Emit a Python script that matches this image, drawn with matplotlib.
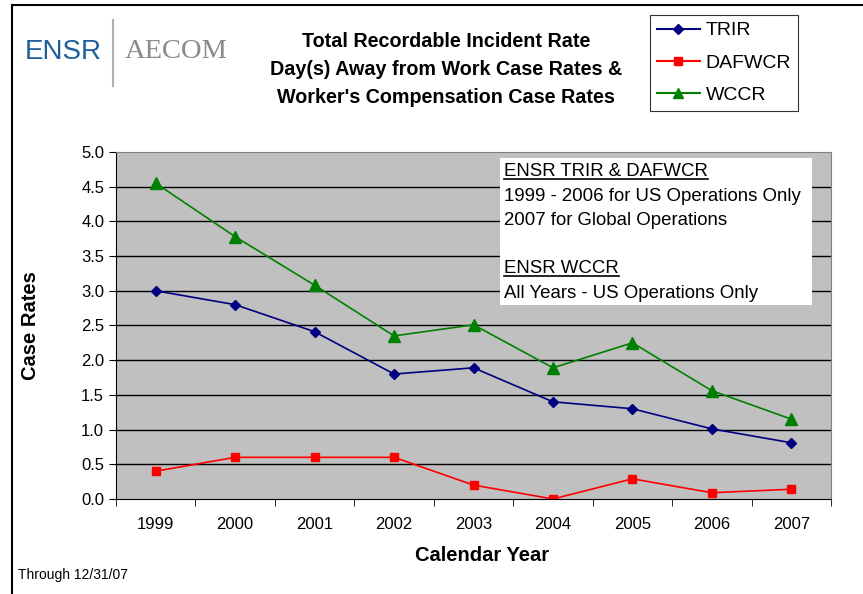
import matplotlib
matplotlib.use("Agg")
import matplotlib.pyplot as plt
from matplotlib.lines import Line2D

plt.rcParams['font.family'] = ['Liberation Sans', 'DejaVu Sans']

# data
years = ['1999', '2000', '2001', '2002', '2003', '2004', '2005', '2006', '2007']
trir = [3.0, 2.8, 2.41, 1.8, 1.89, 1.4, 1.3, 1.01, 0.81]
dafwcr = [0.4, 0.6, 0.6, 0.6, 0.2, 0.0, 0.29, 0.09, 0.14]
wccr = [4.55, 3.78, 3.08, 2.35, 2.51, 1.89, 2.25, 1.56, 1.15]
y_ticks = [0.0, 0.5, 1.0, 1.5, 2.0, 2.5, 3.0, 3.5, 4.0, 4.5, 5.0]

fig = plt.figure(figsize=(8.63, 5.94), dpi=100)
ax = fig.add_axes([0.1344, 0.16, 0.8286, 0.5841])
ax.set_facecolor('#C0C0C0')

x = range(len(years))
ax.plot(x, trir, color='#000080', marker='D', markersize=5.5, lw=1.2, label='TRIR')
ax.plot(x, dafwcr, color='#FF0000', marker='s', markersize=6, lw=1.2, label='DAFWCR')
ax.plot(x, wccr, color='#008000', marker='^', markersize=8, lw=1.2, label='WCCR')

ax.set_xlim(-0.5, len(years) - 0.5)
ax.set_ylim(0, 5)
ax.set_yticks(y_ticks)
ax.set_yticklabels([f'{v:.1f}' for v in y_ticks], fontsize=12)
ax.set_xticks(x)
ax.set_xticklabels(years, fontsize=12)
ax.set_xticks([i - 0.5 for i in range(len(years) + 1)], minor=True)
ax.tick_params(axis='x', which='major', length=0, pad=13)
ax.tick_params(axis='x', which='minor', length=5, direction='out', color='black')
ax.tick_params(axis='y', length=5, color='black')
for v in y_ticks[1:-1]:
    ax.axhline(v, color='black', lw=1, zorder=1)
ax.spines['left'].set_color('black')
ax.spines['bottom'].set_color('black')
ax.spines['top'].set_color('#808080')
ax.spines['right'].set_color('#808080')

ax.set_xlabel('Calendar Year', fontsize=14.5, fontweight='bold')
ax.set_ylabel('Case Rates', fontsize=14.5, fontweight='bold')
ax.xaxis.set_label_coords((482 - 116) / 715, -(556 - 499) / 347)
ax.yaxis.set_label_coords(-(116 - 31) / 715, (499 - 326) / 347)
ax.xaxis.label.set_va('center')
ax.yaxis.label.set_va('center')

# title
fig.text(446 / 863, 1 - 69.5 / 594, 'Total Recordable Incident Rate\nDay(s) Away from Work Case Rates &\n'
         "Worker's Compensation Case Rates", ha='center', va='center',
         fontsize=14.2, fontweight='bold', linespacing=1.6)

# legend box
handles = [Line2D([], [], color='#000080', marker='D', markersize=5),
           Line2D([], [], color='#FF0000', marker='s', markersize=6),
           Line2D([], [], color='#008000', marker='^', markersize=7)]
leg = fig.legend(handles, ['TRIR', 'DAFWCR', 'WCCR'], loc='upper left',
                 bbox_to_anchor=(650 / 863, 1 - 15 / 594), fontsize=14, frameon=True,
                 fancybox=False, edgecolor='black', handlelength=2.2,
                 handletextpad=0.3, labelspacing=0.75, borderpad=0.35,
                 borderaxespad=0)
leg.get_frame().set_linewidth(0.8)

# note box inside plot
box = plt.Rectangle((500 / 863, 1 - 305 / 594), 312 / 863, 147 / 594,
                    transform=fig.transFigure, facecolor='white', edgecolor='none', zorder=3)
fig.add_artist(box)
lines = [('ENSR TRIR & DAFWCR', True), ('1999 - 2006 for US Operations Only', False),
         ('2007 for Global Operations', False), ('', False),
         ('ENSR WCCR', True), ('All Years - US Operations Only', False)]
notes = []
for i, (txt, ul) in enumerate(lines):
    y = 1 - (172 + i * 24.2) / 594
    t = fig.text(504 / 863, y, txt, fontsize=13.4, va='center', ha='left', zorder=4)
    notes.append((t, ul))

# logo
fig.text(25 / 863, 1 - 52 / 594, 'ENSR', fontsize=20, color='#1f5f99', va='center')
fig.text(125 / 863, 1 - 52 / 594, 'AECOM', fontsize=20.5, color='#8a8a8a', va='center',
         family='Liberation Serif')
fig.add_artist(Line2D([113 / 863, 113 / 863], [1 - 20 / 594, 1 - 86 / 594],
                      transform=fig.transFigure, color='#b0b0b0', lw=1.5))

fig.text(18 / 863, 1 - 575 / 594, 'Through 12/31/07', fontsize=10, va='center')

# outer frame: top and left lines only
fig.add_artist(Line2D([12 / 863, 1], [1 - 5 / 594, 1 - 5 / 594],
                      transform=fig.transFigure, color='black', lw=1.5))
fig.add_artist(Line2D([12 / 863, 12 / 863], [0, 1 - 5 / 594],
                      transform=fig.transFigure, color='black', lw=1.5))

# underline the headings in the note box
fig.canvas.draw()
r = fig.canvas.get_renderer()
for t, ul in notes:
    if ul:
        bb = t.get_window_extent(r).transformed(fig.transFigure.inverted())
        fig.add_artist(Line2D([bb.x0, bb.x1], [bb.y0 + 0.003, bb.y0 + 0.003],
                              transform=fig.transFigure, color='black', lw=1.2, zorder=5))

fig.savefig('out.png', dpi=100)
